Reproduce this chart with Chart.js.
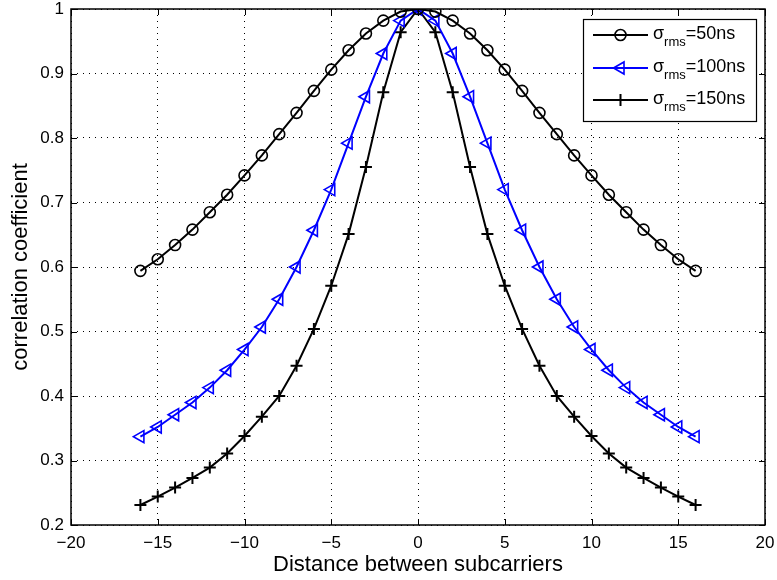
<!DOCTYPE html>
<html>
<head>
<meta charset="utf-8">
<script src="https://cdn.jsdelivr.net/npm/chart.js@4.4.1/dist/chart.umd.min.js"></script>
<style>
  html, body { margin: 0; padding: 0; background: #fff; }
  #wrap { width: 777px; height: 580px; }
</style>
</head>
<body>
<div id="wrap"><canvas id="corrChart" width="777" height="580"></canvas></div>
<script>
// distance between subcarriers
var distance = [-16, -15, -14, -13, -12, -11, -10, -9, -8, -7, -6, -5, -4, -3, -2, -1, 0,
                1, 2, 3, 4, 5, 6, 7, 8, 9, 10, 11, 12, 13, 14, 15, 16];

// sigma_rms = 50ns
var rho50 = [0.594, 0.612, 0.634, 0.658, 0.685, 0.712, 0.742, 0.773, 0.806, 0.839, 0.873, 0.906, 0.936, 0.962, 0.982, 0.996, 1,
             0.996, 0.982, 0.962, 0.936, 0.906, 0.873, 0.839, 0.806, 0.773, 0.742, 0.712, 0.685, 0.658, 0.634, 0.612, 0.594];
// sigma_rms = 100ns
var rho100 = [0.337, 0.352, 0.371, 0.390, 0.413, 0.440, 0.472, 0.507, 0.550, 0.600, 0.657, 0.720, 0.792, 0.864, 0.931, 0.982, 1,
              0.982, 0.931, 0.864, 0.792, 0.720, 0.657, 0.600, 0.550, 0.507, 0.472, 0.440, 0.413, 0.390, 0.371, 0.352, 0.337];
// sigma_rms = 150ns
var rho150 = [0.231, 0.244, 0.258, 0.273, 0.289, 0.311, 0.338, 0.368, 0.400, 0.447, 0.504, 0.571, 0.651, 0.755, 0.871, 0.964, 1,
              0.964, 0.871, 0.755, 0.651, 0.571, 0.504, 0.447, 0.400, 0.368, 0.338, 0.311, 0.289, 0.273, 0.258, 0.244, 0.231];

var legendNames = ['50ns', '100ns', '150ns'];

var FONT = 'Liberation Sans, Arial, Helvetica, sans-serif';

function toPoints(ys) {
    return distance.map(function (d, i) { return { x: d, y: ys[i] }; });
}

var datasets = [
    {
        label: legendNames[0],
        data: toPoints(rho50),
        borderColor: '#000',
        backgroundColor: 'transparent',
        borderWidth: 2,
        pointStyle: 'circle',
        pointRadius: 5.5,
        pointBorderWidth: 1.6,
        pointBorderColor: '#000',
        pointBackgroundColor: 'transparent'
    },
    {
        label: legendNames[1],
        data: toPoints(rho100),
        borderColor: '#0000ff',
        backgroundColor: 'transparent',
        borderWidth: 2,
        pointStyle: 'triangle',
        pointRotation: -90,
        pointRadius: 7,
        pointBorderWidth: 1.6,
        pointBorderColor: '#0000ff',
        pointBackgroundColor: 'transparent'
    },
    {
        label: legendNames[2],
        data: toPoints(rho150),
        borderColor: '#000',
        backgroundColor: 'transparent',
        borderWidth: 2,
        pointStyle: 'cross',
        pointRadius: 6,
        pointBorderWidth: 2,
        pointBorderColor: '#000',
        pointBackgroundColor: 'transparent'
    }
];

// box round the plot area plus inward tick marks, like matlab
var boxPlugin = {
    id: 'boxPlugin',
    afterDraw: function (chart) {
        var ctx = chart.ctx;
        var a = chart.chartArea;
        var xs = chart.scales.x, ys = chart.scales.y;
        ctx.save();
        ctx.strokeStyle = '#000';
        ctx.lineWidth = 1;
        ctx.beginPath();
        xs.ticks.forEach(function (t) {
            var px = Math.round(xs.getPixelForValue(t.value)) + 0.5;
            ctx.moveTo(px, a.bottom); ctx.lineTo(px, a.bottom - 6);
            ctx.moveTo(px, a.top); ctx.lineTo(px, a.top + 6);
        });
        ys.ticks.forEach(function (t) {
            var py = Math.round(ys.getPixelForValue(t.value)) + 0.5;
            ctx.moveTo(a.left, py); ctx.lineTo(a.left + 6, py);
            ctx.moveTo(a.right, py); ctx.lineTo(a.right - 6, py);
        });
        ctx.stroke();
        ctx.lineWidth = 1.5;
        ctx.strokeRect(a.left, a.top, a.right - a.left, a.bottom - a.top);
        ctx.restore();
    }
};

// legend with sigma_rms subscript
var legendPlugin = {
    id: 'sigmaLegend',
    afterDraw: function (chart) {
        var ctx = chart.ctx;
        var bx = 583, by = 19, bw = 173, bh = 102;
        ctx.save();
        ctx.fillStyle = '#fff';
        ctx.fillRect(bx, by, bw, bh);
        ctx.strokeStyle = '#000';
        ctx.lineWidth = 1.2;
        ctx.strokeRect(bx + 0.5, by + 0.5, bw, bh);

        var rows = [35, 68, 100];
        chart.data.datasets.forEach(function (ds, i) {
            var y = rows[i];
            ctx.strokeStyle = ds.borderColor;
            ctx.lineWidth = ds.borderWidth;
            ctx.setLineDash([]);
            ctx.beginPath();
            ctx.moveTo(593, y);
            ctx.lineTo(648, y);
            ctx.stroke();
            ctx.lineWidth = ds.pointBorderWidth;
            ctx.fillStyle = 'rgba(0,0,0,0)';
            Chart.helpers.drawPoint(ctx, {
                pointStyle: ds.pointStyle,
                rotation: ds.pointRotation || 0,
                radius: ds.pointRadius,
                borderWidth: ds.pointBorderWidth
            }, 620.5, y);

            ctx.fillStyle = '#000';
            ctx.textBaseline = 'alphabetic';
            ctx.textAlign = 'left';
            var x = 653;
            ctx.font = '18px ' + FONT;
            ctx.fillText('\u03c3', x, y + 4);
            x += ctx.measureText('\u03c3').width;
            ctx.font = '13px ' + FONT;
            ctx.fillText('rms', x, y + 11);
            x += ctx.measureText('rms').width;
            ctx.font = '18px ' + FONT;
            ctx.fillText('=' + ds.label, x, y + 4);
        });
        ctx.restore();
    }
};

var ctx = document.getElementById('corrChart').getContext('2d');

var corrChart = new Chart(ctx, {
    type: 'line',
    data: { datasets: datasets },
    options: {
        responsive: false,
        animation: false,
        devicePixelRatio: 1,
        layout: { padding: { top: 9, right: 12, left: 0, bottom: 0 } },
        elements: { line: { tension: 0 } },
        plugins: {
            legend: { display: false },
            tooltip: { enabled: false }
        },
        scales: {
            x: {
                type: 'linear',
                min: -20,
                max: 20,
                afterFit: function (scale) {
                    scale.height = 55;
                    scale.paddingLeft = 0;
                    scale.paddingRight = 0;
                },
                ticks: {
                    stepSize: 5,
                    color: '#000',
                    padding: 8,
                    maxRotation: 0,
                    font: { family: FONT, size: 17 },
                    callback: function (v) { return String(v).replace('-', '\u2212'); }
                },
                grid: { color: '#000', lineWidth: 1, drawTicks: false },
                border: { display: false, dash: [1, 5] },
                title: {
                    display: true,
                    text: 'Distance between subcarriers',
                    color: '#000',
                    font: { family: FONT, size: 22 },
                    padding: { top: 2, bottom: 2 }
                }
            },
            y: {
                min: 0.2,
                max: 1,
                afterFit: function (scale) {
                    scale.width = 71;
                    scale.paddingTop = 0;
                    scale.paddingBottom = 0;
                },
                ticks: {
                    stepSize: 0.1,
                    color: '#000',
                    padding: 7,
                    font: { family: FONT, size: 17 },
                    callback: function (v) { return String(parseFloat(v.toFixed(1))); }
                },
                grid: { color: '#000', lineWidth: 1, drawTicks: false },
                border: { display: false, dash: [1, 5] },
                title: {
                    display: true,
                    text: 'correlation coefficient',
                    color: '#000',
                    font: { family: FONT, size: 22 },
                    padding: { top: 8, bottom: 0 }
                }
            }
        }
    },
    plugins: [boxPlugin, legendPlugin]
});
</script>
</body>
</html>
